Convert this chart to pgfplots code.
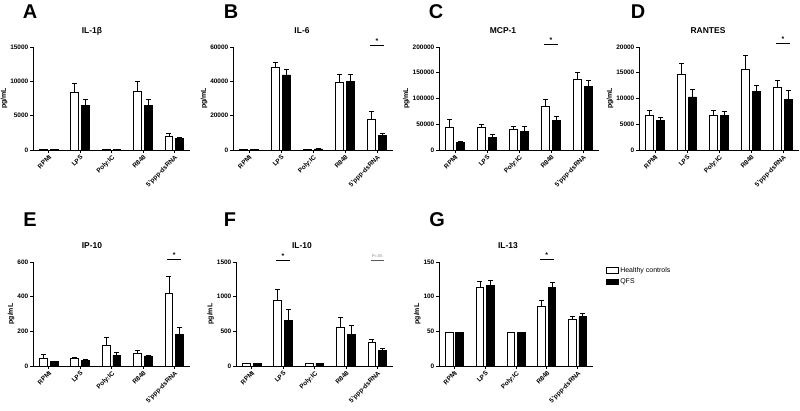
\documentclass[border=0pt]{standalone}
\usepackage{fontspec}
\setmainfont{Liberation Sans}
\usepackage{pgfplots}
\pgfplotsset{compat=1.18}
\pgfplotsset{
  panel/.style={
    scale only axis,
    anchor=south west,
    axis x line*=bottom, axis y line*=left,
    axis line style={-, line width=0.8bp},
    every tick/.style={black, line width=0.8bp},
    tick align=outside, major tick length=3bp,
    xmin=-0.5, xmax=4.5, ymin=0,
    xtick={0,1,2,3,4},
    xticklabels={RPMI,LPS,Poly:IC,R848,{5'ppp-dsRNA}},
    xticklabel style={rotate=45, anchor=north east, inner sep=1bp, font=\fontsize{6.5}{7}\selectfont\bfseries},
    yticklabel style={inner sep=1.5bp, font=\fontsize{6.5}{7}\selectfont\bfseries},
    scaled y ticks=false,
    /pgf/number format/.cd, fixed, 1000 sep={}, assume math mode=true, /pgfplots/.cd,
    ylabel={pg/mL},
    ylabel style={font=\fontsize{7}{8}\selectfont\bfseries, yshift=-2bp},
    clip=false,
  },
  wbar/.style={ybar, bar width=0.25, bar shift=0pt, fill=white, draw=black, line width=0.8bp,
    error bars/.cd, y dir=plus, y explicit,
    error bar style={line width=0.8bp},
    error mark options={rotate=90, mark size=2.5bp, line width=0.8bp}},
  bbar/.style={ybar, bar width=0.25, bar shift=0pt, fill=black, draw=black, line width=0.8bp,
    error bars/.cd, y dir=plus, y explicit,
    error bar style={line width=0.8bp},
    error mark options={rotate=90, mark size=2.5bp, line width=0.8bp}},
}
\newcommand{\sig}[3]{%
  \draw[line width=0.8bp] (axis cs:#1-0.22,#2) -- (axis cs:#1+0.22,#2);
  \node[font=\fontsize{7}{7}\selectfont\bfseries, inner sep=0pt] at (axis cs:#1,#3) {*};}
\begin{document}
\begin{tikzpicture}[x=1bp,y=1bp]
\path[use as bounding box] (0,0) rectangle (800,410);
% letters
\foreach \l/\xx/\yy in {A/30/398,B/231/398,C/436/398,D/638/398,E/30/190,F/230/190,G/437/190}
  \node[font=\fontsize{20}{22}\selectfont\bfseries] at (\xx,\yy) {\l};
% titles
\foreach \t/\xx/\yy in {IL-1β/92/379,IL-6/302/379,MCP-1/503/379,RANTES/708/379,IP-10/92/164,IL-10/302/164,IL-13/508/164}
  \node[font=\fontsize{8.5}{9}\selectfont\bfseries] at (\xx,\yy) {\t};

% A
\begin{axis}[panel, at={(33bp,260bp)}, width=157bp, height=103bp, ymax=15000, ytick={0,5000,10000,15000}]
\addplot[wbar] table[x=x,y=y,y error=e]{
x y e
-0.17 60 20
0.83 8370 1400
1.83 80 20
2.83 8470 1590
3.83 2030 340
};
\addplot[bbar] table[x=x,y=y,y error=e]{
x y e
0.17 40 10
1.17 6530 820
2.17 60 20
3.17 6480 870
4.17 1650 190
};
\end{axis}

% B
\begin{axis}[panel, at={(233bp,260bp)}, width=160bp, height=103bp, ymax=60000, ytick={0,20000,40000,60000}]
\addplot[wbar] table[x=x,y=y,y error=e]{
x y e
-0.17 250 50
0.83 48000 3300
1.83 500 100
2.83 39100 5200
3.83 18000 4600
};
\addplot[bbar] table[x=x,y=y,y error=e]{
x y e
0.17 150 50
1.17 43700 3500
2.17 600 100
3.17 39700 4200
4.17 8300 1600
};
\sig{4}{61200}{63500}
\end{axis}

% C
\begin{axis}[panel, at={(439bp,260bp)}, width=160bp, height=103bp, ymax=200000, ytick={0,50000,100000,150000,200000}]
\addplot[wbar] table[x=x,y=y,y error=e]{
x y e
-0.17 43200 16800
0.83 43200 5800
1.83 39400 5800
2.83 85200 13500
3.83 137400 12900
};
\addplot[bbar] table[x=x,y=y,y error=e]{
x y e
0.17 14800 2000
1.17 24500 5200
2.17 36100 9100
3.17 56800 7700
4.17 123900 10300
};
\sig{3}{205800}{213500}
\end{axis}

% D
\begin{axis}[panel, at={(639bp,260bp)}, width=160bp, height=103bp, ymax=20000, ytick={0,5000,10000,15000,20000}]
\addplot[wbar] table[x=x,y=y,y error=e]{
x y e
-0.17 6770 970
0.83 14700 2200
1.83 6640 970
2.83 15600 2700
3.83 12130 1420
};
\addplot[bbar] table[x=x,y=y,y error=e]{
x y e
0.17 5680 640
1.17 10300 1400
2.17 6710 710
3.17 11350 1230
4.17 9870 1680
};
\sig{4}{20780}{21550}
\end{axis}

% E
\begin{axis}[panel, at={(33bp,44bp)}, width=157bp, height=104bp, ymax=600, ytick={0,200,400,600}]
\addplot[wbar] table[x=x,y=y,y error=e]{
x y e
-0.17 46 20
0.83 46 6
1.83 120 45
2.83 74 17
3.83 420 97
};
\addplot[bbar] table[x=x,y=y,y error=e]{
x y e
0.17 25 4
1.17 33 6
2.17 62 19
3.17 58 6
4.17 184 39
};
\sig{4}{617}{640}
\end{axis}

% F
\begin{axis}[panel, at={(236bp,44bp)}, width=157bp, height=104bp, ymax=1500, ytick={0,500,1000,1500}]
\addplot[wbar] table[x=x,y=y,y error=e]{
x y e
-0.17 40 0
0.83 953 145
1.83 40 0
2.83 552 154
3.83 339 48
};
\addplot[bbar] table[x=x,y=y,y error=e]{
x y e
0.17 40 0
1.17 653 170
2.17 40 0
3.17 460 121
4.17 218 34
};
\sig{1}{1530}{1590}
\draw[line width=0.6bp, gray!70!black] (axis cs:3.8,1530) -- (axis cs:4.2,1530);
\node[font=\fontsize{4}{4}\selectfont, text=gray, inner sep=0pt] at (axis cs:4,1580) {P=.05};
\end{axis}

% G
\begin{axis}[panel, at={(439bp,44bp)}, width=154bp, height=104bp, ymax=150, ytick={0,50,100,150},
  legend style={draw=none, fill=none, at={(1.08,0.97)}, anchor=north west,
    font=\fontsize{7}{8}\selectfont, row sep=1bp, inner sep=0pt},
  legend cell align=left,
  legend image code/.code={\draw[#1, line width=0.8bp] (0bp,-2.5bp) rectangle (12bp,3bp);}]
\addplot[wbar] table[x=x,y=y,y error=e]{
x y e
-0.17 48 0
0.83 113 9
1.83 48 0
2.83 86.6 7.8
3.83 66.8 5.2
};
\addlegendentry{Healthy controls}
\addplot[bbar] table[x=x,y=y,y error=e]{
x y e
0.17 48 0
1.17 116 8
2.17 48 0
3.17 112.7 8.3
4.17 71 5.5
};
\addlegendentry{QFS}
\sig{3}{154}{160}
\end{axis}
\end{tikzpicture}
\end{document}
